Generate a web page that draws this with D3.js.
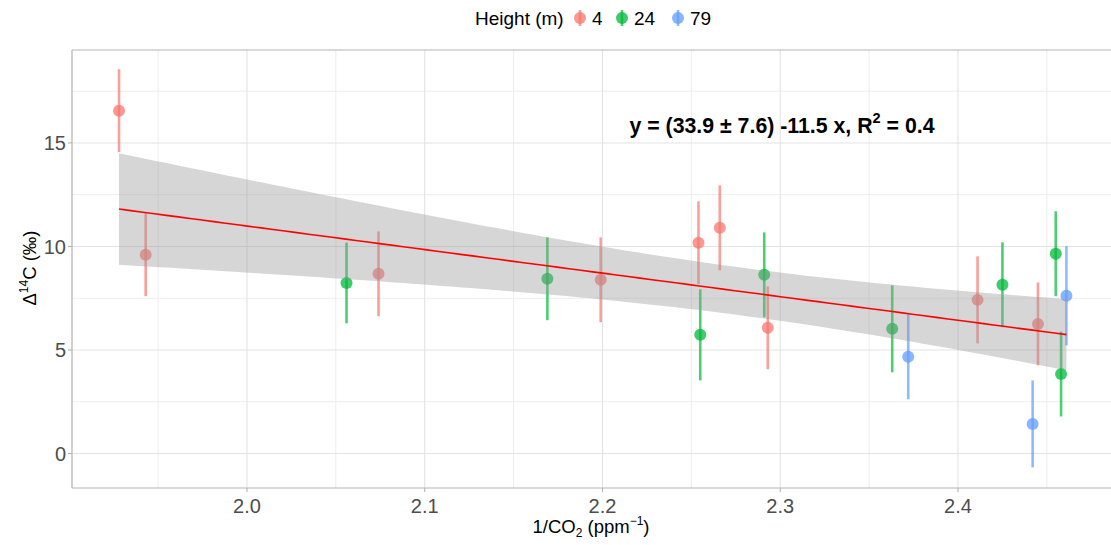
<!DOCTYPE html>
<html><head><meta charset="utf-8">
<script src="https://cdn.jsdelivr.net/npm/d3@7"></script>
<style>body{margin:0;background:#fff}svg{display:block;font-family:"Liberation Sans",Arial,Helvetica,sans-serif}</style>
</head><body><svg id="c" width="1111" height="545"></svg>
<script>
const heights = ["4","24","79"];
const colors = ["#F8766D","#00BA38","#619CFF"];
const invCO2 = [1.928,1.943,2.074,2.199,2.254,2.266,2.293,2.411,2.445, 2.056,2.169,2.255,2.291,2.363,2.425,2.455,2.458, 2.372,2.442,2.461];
const d14C   = [16.56,9.60,8.68,8.39,10.18,10.90,6.07,7.42,6.26, 8.24,8.44,5.73,8.63,6.02,8.15,9.65,3.84, 4.67,1.43,7.62];
const errs   = [2.0,2.0,2.05,2.05,2.0,2.05,2.0,2.1,2.0, 1.95,2.0,2.2,2.05,2.1,2.05,2.05,2.05, 2.05,2.1,2.4];
const group  = ["4","4","4","4","4","4","4","4","4", "24","24","24","24","24","24","24","24", "79","79","79"];
const xTicks = [2.0,2.1,2.2,2.3,2.4];
const yTicks = [0,5,10,15];
const eqText = "y = (33.9 ± 7.6) -11.5 x, R";

const svg = d3.select("#c");
const L=72, R=1111, T=50, B=488;
const x = d3.scaleLinear().domain([1.90155,2.48608]).range([L,R]);
const y = d3.scaleLinear().domain([-1.667,19.49]).range([B,T]);
const col = d3.scaleOrdinal().domain(heights).range(colors);

// grid
const g = svg.append("g");
const xMinor = d3.range(1.95,2.5,0.1), yMinor=[2.5,7.5,12.5,17.5];
g.selectAll(".xm").data(xMinor).join("line").attr("x1",d=>x(d)).attr("x2",d=>x(d)).attr("y1",T).attr("y2",B).attr("stroke","#ededed").attr("stroke-width",1);
g.selectAll(".ym").data(yMinor).join("line").attr("x1",L).attr("x2",R).attr("y1",d=>y(d)).attr("y2",d=>y(d)).attr("stroke","#ededed").attr("stroke-width",1);
g.selectAll(".xM").data(xTicks).join("line").attr("x1",d=>x(d)).attr("x2",d=>x(d)).attr("y1",T).attr("y2",B).attr("stroke","#e3e3e3").attr("stroke-width",1.1);
g.selectAll(".yM").data(yTicks).join("line").attr("x1",L).attr("x2",R).attr("y1",d=>y(d)).attr("y2",d=>y(d)).attr("stroke","#e3e3e3").attr("stroke-width",1.1);

// data
const data = invCO2.map((v,i)=>({x:v,y:d14C[i],e:errs[i],g:group[i]}));
const pts = svg.append("g");
pts.selectAll("line").data(data).join("line")
  .attr("x1",d=>x(d.x)).attr("x2",d=>x(d.x)).attr("y1",d=>y(d.y-d.e)).attr("y2",d=>y(d.y+d.e))
  .attr("stroke",d=>col(d.g)).attr("stroke-width",2.6).attr("stroke-opacity",0.7);
pts.selectAll("circle").data(data).join("circle")
  .attr("cx",d=>x(d.x)).attr("cy",d=>y(d.y)).attr("r",6)
  .attr("fill",d=>col(d.g)).attr("fill-opacity",0.75);

// regression with 95% CI
const n=data.length, mx=d3.mean(data,d=>d.x), my=d3.mean(data,d=>d.y);
const sxx=d3.sum(data,d=>(d.x-mx)**2), sxy=d3.sum(data,d=>(d.x-mx)*(d.y-my));
const b=sxy/sxx, a=my-b*mx;
const s=Math.sqrt(d3.sum(data,d=>(d.y-a-b*d.x)**2)/(n-2));
const tq=2.101;
const [x0,x1]=d3.extent(data,d=>d.x);
const grid=d3.range(0,81).map(i=>x0+(x1-x0)*i/80).map(v=>{const f=a+b*v, se=s*Math.sqrt(1/n+(v-mx)**2/sxx);return {x:v,f,lo:f-tq*se,hi:f+tq*se};});
svg.append("path").datum(grid).attr("d",d3.area().x(d=>x(d.x)).y0(d=>y(d.lo)).y1(d=>y(d.hi)))
  .attr("fill","#999999").attr("fill-opacity",0.4);
svg.append("path").datum(grid).attr("d",d3.line().x(d=>x(d.x)).y(d=>y(d.f)))
  .attr("fill","none").attr("stroke","#ff0000").attr("stroke-width",1.6);

// border
svg.append("line").attr("x1",L).attr("x2",L).attr("y1",T).attr("y2",B).attr("stroke","#b3b3b3").attr("stroke-width",1.2);
svg.append("line").attr("x1",L).attr("x2",R).attr("y1",B).attr("y2",B).attr("stroke","#b3b3b3").attr("stroke-width",1.2);
svg.append("line").attr("x1",L).attr("x2",R).attr("y1",T).attr("y2",T).attr("stroke","#b3b3b3").attr("stroke-width",1.2);

// axes ticks & labels
const ax=svg.append("g").attr("fill","#4d4d4d").attr("font-size",20);
xTicks.forEach(t=>{
  svg.append("line").attr("x1",x(t)).attr("x2",x(t)).attr("y1",B).attr("y2",B+4).attr("stroke","#b3b3b3").attr("stroke-width",1.1);
  ax.append("text").attr("x",x(t)).attr("y",B+25).attr("text-anchor","middle").text(t.toFixed(1));
});
yTicks.forEach(t=>{
  svg.append("line").attr("x1",L-4).attr("x2",L).attr("y1",y(t)).attr("y2",y(t)).attr("stroke","#b3b3b3").attr("stroke-width",1.1);
  ax.append("text").attr("x",L-6).attr("y",y(t)).attr("dy","0.36em").attr("text-anchor","end").text(t);
});

// axis titles
const xt=svg.append("text").attr("x",591).attr("y",533).attr("text-anchor","middle").attr("font-size",18.5).attr("fill","#000");
xt.append("tspan").text("1/CO");
xt.append("tspan").attr("font-size",12).attr("dy",4).text("2");
xt.append("tspan").attr("dy",-4).text(" (ppm");
xt.append("tspan").attr("font-size",12).attr("dy",-8).text("−1");
xt.append("tspan").attr("dy",8).text(")");
const yt=svg.append("text").attr("transform","translate(36,268) rotate(-90)").attr("text-anchor","middle").attr("font-size",18.5).attr("fill","#000");
yt.append("tspan").text("Δ");
yt.append("tspan").attr("font-size",12).attr("dy",-8).text("14");
yt.append("tspan").attr("dy",8).text("C (‰)");

// equation
const eq=svg.append("text").attr("x",782).attr("y",133).attr("text-anchor","middle").attr("font-size",21.3).attr("font-weight","bold").attr("fill","#000");
eq.append("tspan").text(eqText);
eq.append("tspan").attr("font-size",14.5).attr("dy",-10).text("2");
eq.append("tspan").attr("dy",10).text(" = 0.4");

// legend
const lg=svg.append("g");
lg.append("text").attr("x",475).attr("y",25).attr("font-size",19).attr("fill","#000").text("Height (m)");
const lx=[580,622,678];
heights.forEach((h,i)=>{
  lg.append("line").attr("x1",lx[i]).attr("x2",lx[i]).attr("y1",10).attr("y2",26).attr("stroke",colors[i]).attr("stroke-width",2.6).attr("stroke-opacity",0.7);
  lg.append("circle").attr("cx",lx[i]).attr("cy",18).attr("r",6).attr("fill",colors[i]).attr("fill-opacity",0.75);
  lg.append("text").attr("x",lx[i]+12).attr("y",25).attr("font-size",19).attr("fill","#000").text(h);
});
</script></body></html>
